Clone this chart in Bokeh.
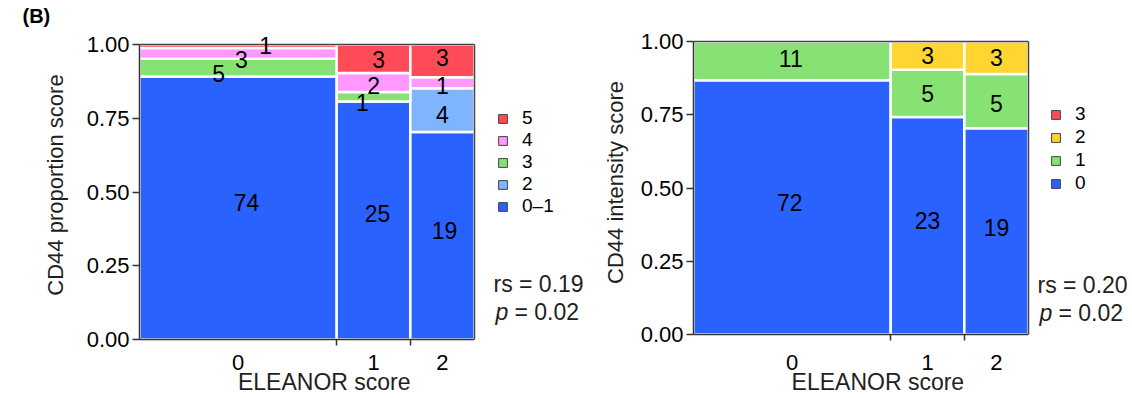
import numpy as np
from bokeh.plotting import figure
from bokeh.layouts import row
from bokeh.core.properties import value
from bokeh.models import (ColumnDataSource, FixedTicker, Legend, LegendItem, Label,
                          LabelSet, Range1d, NumeralTickFormatter, Title)
from bokeh.embed import file_html
from bokeh.resources import INLINE

FONT = "Liberation Sans"
TXT = "#231F20"
AX = "#333333"
NBSP = "\u00a0"

eleanor_labels = ["0", "1", "2"]
y_ticks = [0, 0.25, 0.5, 0.75, 1.0]

# CD44 proportion score: counts per ELEANOR score (0, 1, 2)
prop_levels = ["0–1", "2", "3", "4", "5"]
prop_0_1 = [74, 25, 19]
prop_2 = [0, 0, 4]
prop_3 = [5, 1, 0]
prop_4 = [3, 2, 1]
prop_5 = [1, 3, 3]
prop_colors = ["#2962FF", "#7FB4FF", "#86E373", "#FF99FF", "#FF4B57"]
prop_rs, prop_p = "0.19", "0.02"

# CD44 intensity score: counts per ELEANOR score (0, 1, 2)
int_levels = ["0", "1", "2", "3"]
int_0 = [72, 23, 19]
int_1 = [11, 5, 5]
int_2 = [0, 3, 3]
int_3 = [0, 0, 0]
int_colors = ["#2962FF", "#86E373", "#FFD532", "#FF4B57"]
int_rs, int_p = "0.20", "0.02"

# label nudges (x as fraction of plot width, y as proportion) for readability
prop_nudge = {
    (0, 0): (0.025, 0.018), (2, 0): (-0.058, -0.020), (3, 0): (0.010, -0.021), (4, 0): (0.082, 0.003),
    (0, 1): (0.012, 0.024), (2, 1): (-0.033, -0.020), (3, 1): (0.0, -0.010), (4, 1): (0.015, -0.003),
    (0, 2): (0.006, 0.017), (1, 2): (0.0, -0.015), (3, 2): (0.0, -0.010), (4, 2): (0.0, 0.012),
}
int_nudge = {
    (0, 0): (-0.007, 0.017), (1, 0): (-0.004, 0.008),
    (0, 1): (0.0, 0.018), (0, 2): (0.0, 0.013), (1, 2): (0.0, -0.008),
}

PLOT_W = 335  # pixel width of the mosaic area


def make_panel(levels, series, colors, ylabel, rs, pval, nudge, geo):
    counts = np.array(series, dtype=float)
    col_tot = counts.sum(axis=0)
    total = col_tot.sum()
    cx1 = np.cumsum(col_tot)
    cx0 = cx1 - col_tot
    frac = counts / col_tot
    cy1 = np.cumsum(frac, axis=0)
    cy0 = cy1 - frac

    fw = geo["fw"]
    x_end = total * fw / PLOT_W
    y_end = 1 + geo["top_extra"] / geo["ph"]
    p = figure(frame_width=fw, frame_height=geo["ph"] + geo["top_extra"], output_backend="svg",
               toolbar_location=None, x_range=Range1d(0, x_end), y_range=Range1d(0, y_end),
               min_border_left=geo["bl"], min_border_right=0,
               min_border_top=geo["bt"], min_border_bottom=geo["bb"])
    p.xgrid.visible = False
    p.ygrid.visible = False
    p.outline_line_color = None
    p.background_fill_color = "white"

    L, R, B, T, C = [], [], [], [], []
    lx, ly, lt = [], [], []
    for i in range(len(levels)):
        for j in range(len(col_tot)):
            if counts[i, j] <= 0:
                continue
            L.append(cx0[j]); R.append(cx1[j]); B.append(cy0[i, j]); T.append(cy1[i, j])
            C.append(colors[i])
            dx, dy = nudge.get((i, j), (0.0, 0.0))
            lx.append((cx0[j] + cx1[j]) / 2 + dx * total)
            ly.append((cy0[i, j] + cy1[i, j]) / 2 + dy)
            lt.append(str(int(counts[i, j])))
    src = ColumnDataSource(dict(left=L, right=R, bottom=B, top=T, color=C))
    p.quad(left="left", right="right", bottom="bottom", top="top", fill_color="color",
           line_color="white", line_width=2.5, source=src)

    # top and right border of the mosaic area
    p.segment(x0=[0, total], y0=[1, 0], x1=[total, total], y1=[1, 1],
              line_color="#444444", line_width=1.5)

    lsrc = ColumnDataSource(dict(x=lx, y=ly, text=lt))
    p.add_layout(LabelSet(x="x", y="y", text="text", source=lsrc, text_align="center",
                          text_baseline="middle", text_font=value(FONT),
                          text_font_size=value("23px"), text_color="black"))

    # axes
    centers = list((cx0 + cx1) / 2)
    p.xaxis.bounds = (0, total)
    p.xaxis.ticker = FixedTicker(ticks=centers, minor_ticks=list(cx1[:-1]))
    p.xaxis.major_label_overrides = {c: eleanor_labels[k] for k, c in enumerate(centers)}
    p.xaxis.major_tick_line_color = None
    p.xaxis.minor_tick_line_color = AX
    p.xaxis.minor_tick_line_width = 1.5
    p.xaxis.minor_tick_out = 6
    p.xaxis.minor_tick_in = 0
    p.xaxis.major_label_standoff = geo["xtick_sd"]
    # axis title is centred on the frame; trailing spaces shift it over the mosaic area
    p.xaxis.axis_label = "ELEANOR score" + NBSP * geo["xlab_pad"]
    p.xaxis.axis_label_standoff = -4
    p.xaxis.axis_label_text_font_size = "23px"

    p.yaxis.bounds = (0, 1)
    p.yaxis.ticker = FixedTicker(ticks=y_ticks)
    p.yaxis.formatter = NumeralTickFormatter(format="0.00")
    p.yaxis.minor_tick_line_color = None
    p.yaxis.major_tick_out = 7
    p.yaxis.major_tick_in = 0
    p.yaxis.major_tick_line_width = 1.5
    p.yaxis.major_tick_line_color = AX
    p.yaxis.major_label_standoff = 3
    p.yaxis.axis_label = ylabel
    p.yaxis.axis_label_standoff = geo["ylab_sd"]
    p.yaxis.axis_label_text_font_size = "22px"

    for ax in (p.xaxis, p.yaxis):
        ax.axis_line_color = AX
        ax.axis_line_width = 1.5
        ax.major_label_text_font = FONT
        ax.major_label_text_font_size = "22px"
        ax.major_label_text_color = "black"
        ax.axis_label_text_font = FONT
        ax.axis_label_text_font_style = "normal"
        ax.axis_label_text_color = TXT

    # legend with hidden dummy renderers (outlined squares), placed outside the x range
    items = []
    for i in reversed(range(len(levels))):
        r = p.quad(left=[-2], right=[-1], bottom=[0], top=[0.01], fill_color=colors[i],
                   line_color="#444444", line_width=1)
        items.append(LegendItem(label=levels[i], renderers=[r]))
    leg = Legend(items=items, location=geo["leg"], glyph_width=11, glyph_height=11,
                 label_standoff=14, spacing=geo["leg_sp"], padding=0, margin=0,
                 border_line_color=None, background_fill_alpha=0, label_text_font=FONT,
                 label_text_font_size="19px", label_height=19, label_text_color="black")
    p.add_layout(leg)

    sx, sy = geo["stats"]
    p.add_layout(Label(x=sx, y=sy, x_units="screen", y_units="screen", text="rs = " + rs,
                       text_font=FONT, text_font_size="23px", text_color=TXT,
                       text_baseline="middle"))
    p.add_layout(Label(x=sx + 2, y=sy - 28, x_units="screen", y_units="screen", text="p",
                       text_font=FONT, text_font_size="23px", text_color=TXT,
                       text_font_style="italic", text_baseline="middle"))
    p.add_layout(Label(x=sx + 21, y=sy - 28, x_units="screen", y_units="screen", text="= " + pval,
                       text_font=FONT, text_font_size="23px", text_color=TXT,
                       text_baseline="middle"))
    return p


p1 = make_panel(prop_levels, [prop_0_1, prop_2, prop_3, prop_4, prop_5], prop_colors,
                "CD44 proportion score", prop_rs, prop_p, prop_nudge,
                dict(fw=459, ph=295, top_extra=14, bl=139, bt=30, bb=59, ylab_sd=16,
                     xtick_sd=9, xlab_pad=14, leg=(358, 122), leg_sp=0, stats=(354, 56)))
p1.add_layout(Title(text="(B)", align="left", offset=-117, text_font=FONT,
                    text_font_size="20px", text_font_style="bold", text_color="black",
                    vertical_align="top", standoff=3), "above")

p2 = make_panel(int_levels, [int_0, int_1, int_2, int_3], int_colors,
                "CD44 intensity score", int_rs, int_p, int_nudge,
                dict(fw=439, ph=293, top_extra=11, bl=95, bt=30, bb=64, ylab_sd=10,
                     xtick_sd=14, xlab_pad=11, leg=(357, 140), leg_sp=1, stats=(344, 50)))

layout = row(p1, p2)
open("out.html", "w").write(file_html(layout, INLINE))
